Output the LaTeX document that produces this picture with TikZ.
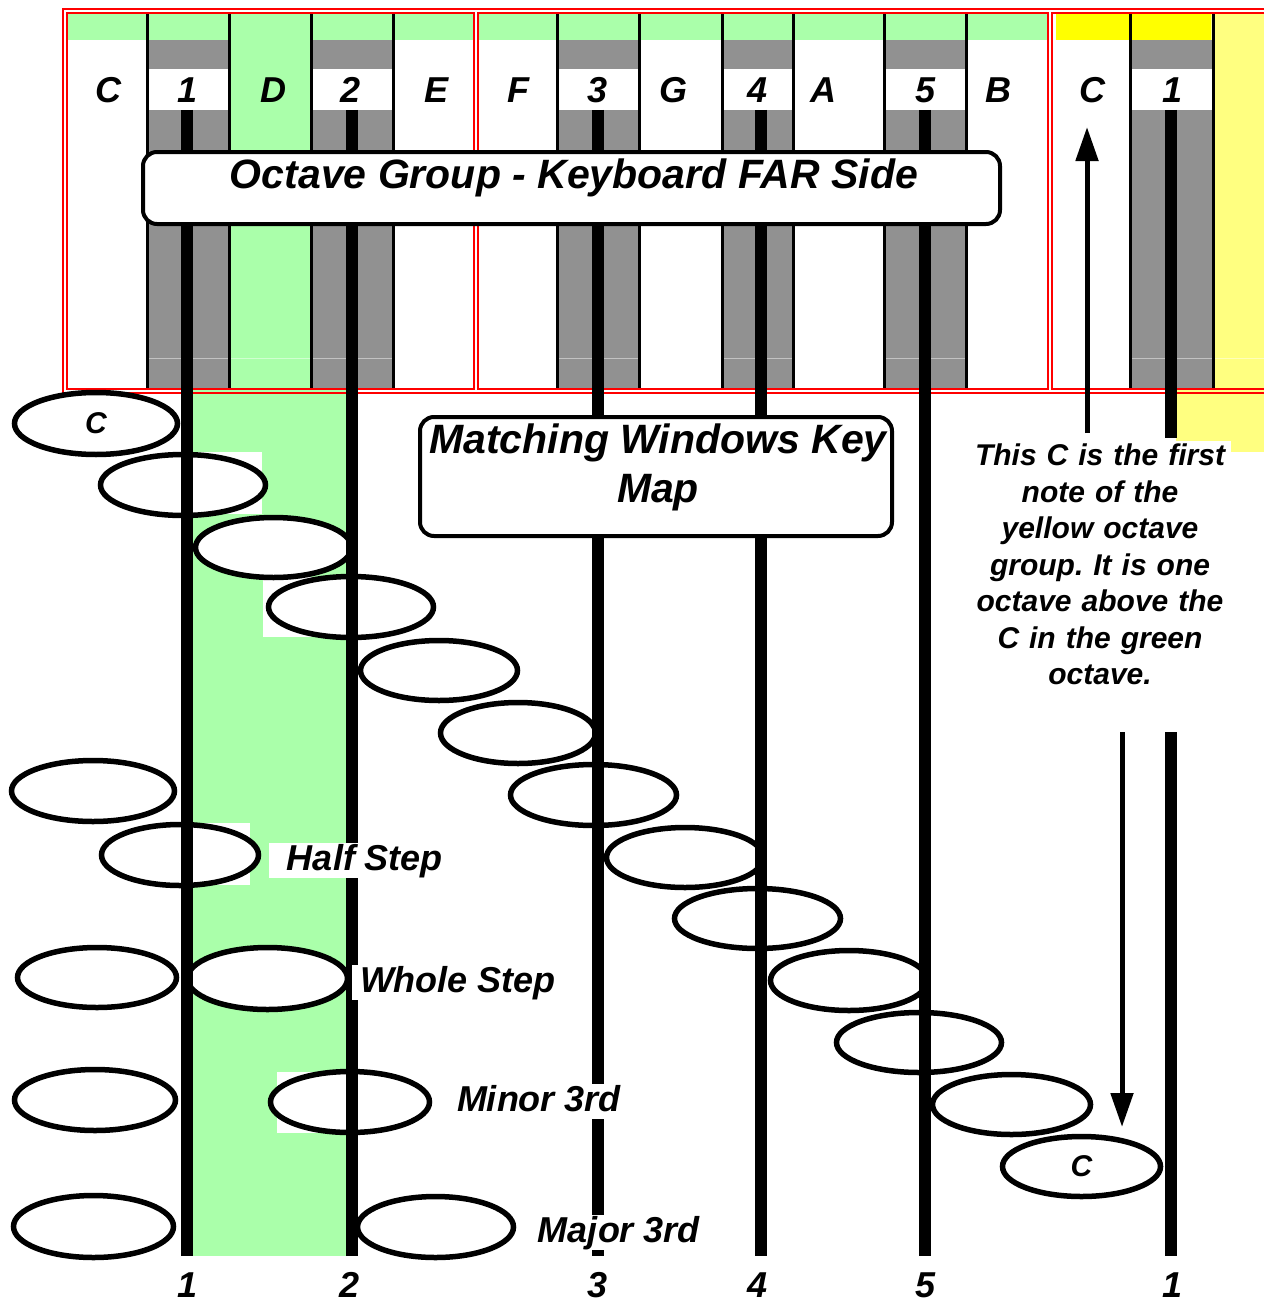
\documentclass[tikz,border=0pt]{standalone}
\usepackage{fontspec}
\setmainfont{Liberation Sans}
\usetikzlibrary{shapes.geometric,arrows.meta}
\definecolor{keygreen}{RGB}{170,255,170}
\definecolor{keygray}{RGB}{145,145,145}
\definecolor{keyyellow}{RGB}{255,255,0}
\definecolor{paleyellow}{RGB}{255,255,128}
\definecolor{framered}{RGB}{255,0,0}
\frenchspacing
\begin{document}
\begin{tikzpicture}[x=1pt,y=-1pt,
  oval/.style={ellipse,draw=black,line width=5.5pt,fill=white,inner sep=0pt,
    font=\fontsize{30}{34}\selectfont\bfseries\itshape},
  bar/.style={line width=12pt},
  keyline/.style={line width=3pt},
  redline/.style={draw=framered,line width=1.6pt},
  keytxt/.style={font=\fontsize{36}{40}\selectfont\bfseries\itshape,inner sep=0pt,anchor=base},
  titletxt/.style={font=\fontsize{41}{49}\selectfont\bfseries\itshape,inner sep=0pt,anchor=base},
  stepbox/.style={fill=white,inner xsep=0pt,inner ysep=0pt,text height=27pt,text depth=8pt,
    font=\fontsize{36}{40}\selectfont\bfseries\itshape},
  signbox/.style={draw=black,fill=white,line width=4pt,rounded corners=14pt,inner sep=0pt},
  arr/.style={line width=5pt,-{Triangle[length=34pt,width=22pt]}}]
\useasboundingbox (0,0) rectangle (1264,1303);

% pale yellow backdrop of the next octave
\fill[paleyellow] (1176,13) rectangle (1264,452);

% coloured strips along the top of each octave group
\fill[keygreen] (67,13) rectangle (474,40);
\fill[keygreen] (478,13) rectangle (1048,40);
\fill[keyyellow] (1056,13) rectangle (1211,40);

% highlighted D column and the band below it
\fill[keygreen] (229,13) rectangle (311,389);
\fill[keygreen] (193,389) rectangle (347,1256);

% black keys: grey body, white label window, outline
\foreach \xl/\xr in {147/229,311/393,557/639,722/793,884/966,1130/1213}{
  \fill[keygray] (\xl,40) rectangle (\xr,389);
  \fill[white] (\xl,69) rectangle (\xr,110);
}
\draw[white,opacity=0.45,line width=1pt] (147,358) -- (393,358);
\foreach \xl/\xr in {557/639,722/793,884/966,1130/1213}{
  \draw[white,opacity=0.45,line width=1pt] (\xl,358) -- (\xr,358);
}
\draw[white,opacity=0.45,line width=1pt] (1213,358) -- (1264,358);
\foreach \x in {147,229,311,393,557,639,722,793,884,966,1130,1213}{
  \draw[keyline] (\x,13) -- (\x,389);
}

% key names
\foreach \t/\x in {C/108,1/188,D/273,2/351,E/436,F/518,3/598,G/673,4/758,A/823,5/925,B/998,C/1092,1/1172}{
  \node[keytxt] at (\x,103) {\t};
}

% double red frame of the octave groups
\draw[redline] (1264,9) -- (63,9) -- (63,393) -- (1264,393);
\draw[redline] (67,13) rectangle (474,389);
\draw[redline] (478,13) rectangle (1048,389);
\draw[redline] (1264,13) -- (1052,13) -- (1052,389) -- (1264,389);

% white patches behind some ovals
\fill[white] (193,452) rectangle (262,514);
\fill[white] (263,577) rectangle (347,637);
\fill[white] (193,823) rectangle (250,885);
\fill[white] (277,1072) rectangle (347,1133);

% staircase of keys, C to C
\node[oval,minimum width=163pt,minimum height=62pt] (s1) at (96,423.5) {C};
\node[oval,minimum width=165pt,minimum height=61pt] (s2) at (183,485) {};
\node[oval,minimum width=156pt,minimum height=60pt] (s3) at (273.5,547.5) {};
\node[oval,minimum width=165pt,minimum height=61pt] (s4) at (351,607) {};
\node[oval,minimum width=157pt,minimum height=60pt] (s5) at (439,670.5) {};
\node[oval,minimum width=155pt,minimum height=61pt] (s6) at (518,733) {};
\node[oval,minimum width=166pt,minimum height=61pt] (s7) at (593.5,795) {};
\node[oval,minimum width=157pt,minimum height=60pt] (s8) at (685,857.5) {};
\node[oval,minimum width=166pt,minimum height=60pt] (s9) at (757.5,918.5) {};
\node[oval,minimum width=157pt,minimum height=60pt] (s10) at (849,980.5) {};
\node[oval,minimum width=165pt,minimum height=60pt] (s11) at (919,1042.5) {};
\node[oval,minimum width=158pt,minimum height=60pt] (s12) at (1011.5,1104.5) {};
\node[oval,minimum width=158pt,minimum height=60pt] (s13) at (1081.5,1166.5) {C};

% interval examples
\node[oval,minimum width=163pt,minimum height=61pt] (h1) at (93,791) {};
\node[oval,minimum width=157pt,minimum height=61pt] (h2) at (180,855) {};
\node[oval,minimum width=159pt,minimum height=60pt] (w1) at (97,977.5) {};
\node[oval,minimum width=160pt,minimum height=62pt] (w2) at (267.5,978.5) {};
\node[oval,minimum width=161pt,minimum height=61pt] (n1) at (95,1100) {};
\node[oval,minimum width=159pt,minimum height=61pt] (n2) at (350,1102) {};
\node[oval,minimum width=160pt,minimum height=62pt] (j1) at (93.5,1226.5) {};
\node[oval,minimum width=156pt,minimum height=61pt] (j2) at (435.5,1227) {};

% key map lines
\foreach \n/\x in {1/187,2/351.5,3/598,4/761,5/924.5}{
  \coordinate (t\n) at (\x,110);
  \coordinate (b\n) at (\x,1256);
  \draw[bar] (t\n) -- (b\n);
}
\coordinate (t6) at (1171,110);
\coordinate (u6) at (1171,438);
\coordinate (v6) at (1171,732);
\coordinate (b6) at (1171,1256);
\draw[bar] (t6) -- (u6);
\draw[bar] (v6) -- (b6);

% interval names
\node[stepbox,minimum width=192pt] (hs) at (365,860.5) {Half Step};
\node[stepbox,minimum width=212pt] (ws) at (458,982.5) {Whole Step};
\node[stepbox,minimum width=172pt] (m3) at (539,1101.5) {Minor 3rd};
\node[stepbox,minimum width=172pt] (M3) at (619,1232.5) {Major 3rd};

% signs
\node[signbox,minimum width=857pt,minimum height=72pt] (og) at (571.5,188) {};
\node[titletxt] (ogt) at (574,188) {Octave Group - Keyboard FAR Side};
\node[signbox,minimum width=472pt,minimum height=119pt] (wk) at (656,476.5) {};
\node[titletxt] (wk1) at (658,453) {Matching Windows Key};
\node[titletxt] (wk2) at (658,502) {Map};

% note about the next C
\node[fill=white,inner sep=3pt,anchor=north,text width=256pt,align=center,
  font=\fontsize{30}{36.5}\selectfont\bfseries\itshape] (note) at (1100,441)
  {This C is the first\\note of the\\yellow octave\\group. It is one\\octave above the\\C in the green\\octave.};

\coordinate (ua) at (1087,433);
\coordinate (ub) at (1087,127);
\draw[arr] (ua) -- (ub);
\coordinate (da) at (1122,732);
\coordinate (db) at (1122,1127);
\draw[arr] (da) -- (db);

% numbers under the map
\foreach \t/\x in {1/188,2/350,3/598,4/758,5/925,1/1172}{
  \node[keytxt] at (\x,1297) {\t};
}
\end{tikzpicture}
\end{document}
